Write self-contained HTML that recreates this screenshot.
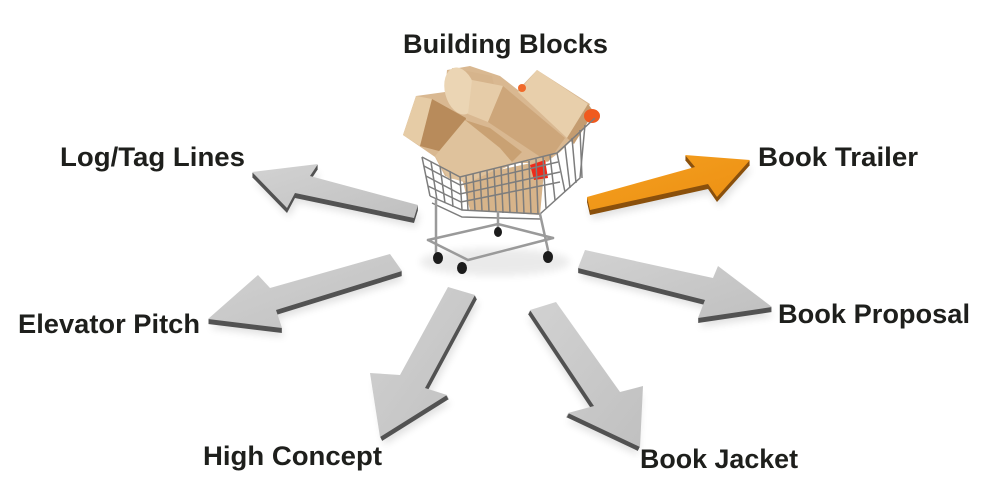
<!DOCTYPE html>
<html><head><meta charset="utf-8"><style>
html,body{margin:0;padding:0;background:#fff;}
svg{display:block;}
text{font-family:"Liberation Sans",Arial,sans-serif;font-weight:bold;font-size:27px;fill:#1e1f1c;}
</style></head><body>
<svg width="1000" height="496" viewBox="0 0 1000 496" xmlns="http://www.w3.org/2000/svg">
<defs>
<linearGradient id="gg" x1="0" y1="0" x2="1" y2="1"><stop offset="0" stop-color="#d2d2d2"/><stop offset="1" stop-color="#c0c0c0"/></linearGradient>
<linearGradient id="og" x1="0" y1="0" x2="1" y2="1"><stop offset="0" stop-color="#f5a020"/><stop offset="1" stop-color="#ec8f12"/></linearGradient>
<filter id="sh" x="-20%" y="-20%" width="140%" height="140%"><feGaussianBlur stdDeviation="4"/></filter>
<polygon id="pA" points="252,172 318,164 310,176 418,205 414,218 295,193 287,208"/>
<polygon id="pB" points="208,319 258,275 270,288 390,254 402,271 276,310 282,328"/>
<polygon id="pC" points="448,287 475,295 425,388 447,395 380,437 370,373 400,375"/>
<polygon id="pD" points="530,310 556,302 620,392 643,386 640,447 568,413 594,406"/>
<polygon id="pE" points="585,250 713,278 718,266 772,307 698,318 705,300 578,268"/>
<polygon id="pF" points="587,197 695,167 685,155 750,160 717,197 708,184 590,210"/>
</defs>

<!-- shadows -->
<g fill="#000" opacity="0.12" filter="url(#sh)">
<use href="#pA" transform="translate(2,9)"/>
<use href="#pB" transform="translate(2,9)"/>
<use href="#pC" transform="translate(4,8)"/>
<use href="#pD" transform="translate(-2,8)"/>
<use href="#pE" transform="translate(2,9)"/>
<use href="#pF" transform="translate(2,9)"/>
</g>

<g fill="#525252">
<use href="#pA" transform="translate(0,1)"/><use href="#pA" transform="translate(0,2)"/><use href="#pA" transform="translate(0,3)"/><use href="#pA" transform="translate(0,4)"/><use href="#pA" transform="translate(0,5)"/>
<use href="#pB" transform="translate(0,1)"/><use href="#pB" transform="translate(0,2)"/><use href="#pB" transform="translate(0,3)"/><use href="#pB" transform="translate(0,4)"/><use href="#pB" transform="translate(0,5)"/>
<use href="#pC" transform="translate(0.5,1)"/><use href="#pC" transform="translate(1,2)"/><use href="#pC" transform="translate(1.5,3)"/><use href="#pC" transform="translate(2,4)"/>
<use href="#pD" transform="translate(-0.5,1)"/><use href="#pD" transform="translate(-1,2)"/><use href="#pD" transform="translate(-1.5,3)"/><use href="#pD" transform="translate(-2,4)"/>
<use href="#pE" transform="translate(0,1)"/><use href="#pE" transform="translate(0,2)"/><use href="#pE" transform="translate(0,3)"/><use href="#pE" transform="translate(0,4)"/><use href="#pE" transform="translate(0,5)"/>
</g>
<g fill="#8a500c">
<use href="#pF" transform="translate(0,1)"/><use href="#pF" transform="translate(0,2)"/><use href="#pF" transform="translate(0,3)"/><use href="#pF" transform="translate(0,4)"/><use href="#pF" transform="translate(0,5)"/>
</g>
<g fill="url(#gg)">
<use href="#pA"/><use href="#pB"/><use href="#pC"/><use href="#pD"/><use href="#pE"/>
</g>
<use href="#pF" fill="url(#og)"/>

<!-- cart shadow -->
<ellipse cx="495" cy="262" rx="75" ry="14" fill="#000" opacity="0.08" filter="url(#sh)"/>

<!-- blocks base fill -->
<polygon points="403,135 416,96 445,92 447,70 470,66 500,76 518,90 537,70 590,104 572,140 560,152 545,163 515,163 470,184 445,176 435,157 422,148" fill="#d9b891"/>
<!-- cylinder -->
<polygon points="452,68 492,76 500,112 462,112" fill="#d6b48c"/>
<ellipse cx="460" cy="91" rx="15" ry="24" transform="rotate(-15 460 91)" fill="#ebd5b4"/>
<!-- right cube -->
<polygon points="537,70 588,104 567,138 518,92" fill="#e8cfab"/>
<polygon points="588,104 594,112 574,144 567,138" fill="#c49c70"/>
<!-- big center block -->
<polygon points="472,80 503,86 488,122 468,114" fill="#e6cca8"/>
<polygon points="503,86 565,138 548,162 488,122" fill="#cda67a"/>
<!-- interior slats -->
<polygon points="462,178 545,160 540,215 470,210" fill="#d7b48a"/>
<!-- left cube -->
<polygon points="403,135 416,96 432,99 420,146" fill="#e6cca6"/>
<polygon points="432,99 466,118 458,156 420,146" fill="#b88b5b"/>
<!-- front prism -->
<polygon points="465,120 435,156 448,178 470,182 512,162 500,148" fill="#dfc29c"/>
<polygon points="465,120 500,148 512,162 522,152 490,128" fill="#c9a173"/>
<!-- orange/red bits -->
<ellipse cx="592" cy="116" rx="8" ry="7" fill="#f05a1e"/>
<ellipse cx="522" cy="88" rx="4" ry="4" fill="#f06a2a"/>
<polygon points="530,165 545,160 548,178 534,180" fill="#ee2a1a"/>

<!-- basket wires -->
<g stroke="#7d7d7d" stroke-width="1.5" fill="none">
<polyline points="422,157 460,177 557,153 595,118"/>
<polyline points="424,166 460,185 558,162"/>
<polyline points="426,176 460,194 560,172"/>
<polyline points="428,186 461,202 560,182"/>
<polyline points="430,196 462,210 540,214 580,178 585,125"/>
<polyline points="432,203 462,217 540,219"/>
<line x1="422" y1="157" x2="430" y2="196"/>
<line x1="431" y1="162" x2="437" y2="200"/>
<line x1="440" y1="166" x2="445" y2="203"/>
<line x1="450" y1="171" x2="453" y2="207"/>
<line x1="460" y1="177" x2="462" y2="210"/>
<line x1="466" y1="176" x2="468" y2="210"/>
<line x1="473" y1="174" x2="475" y2="211"/>
<line x1="480" y1="172" x2="482" y2="211"/>
<line x1="487" y1="171" x2="489" y2="212"/>
<line x1="494" y1="169" x2="496" y2="212"/>
<line x1="501" y1="167" x2="503" y2="213"/>
<line x1="508" y1="166" x2="510" y2="213"/>
<line x1="515" y1="164" x2="517" y2="213"/>
<line x1="522" y1="162" x2="524" y2="214"/>
<line x1="529" y1="161" x2="531" y2="214"/>
<line x1="536" y1="159" x2="538" y2="214"/>
<line x1="543" y1="157" x2="546" y2="208"/>
<line x1="550" y1="155" x2="555" y2="200"/>
<line x1="557" y1="153" x2="565" y2="192"/>
<line x1="565" y1="146" x2="570" y2="188"/>
<line x1="572" y1="138" x2="576" y2="183"/>
<line x1="580" y1="130" x2="582" y2="178"/>
</g>
<!-- base frame -->
<g stroke="#9a9a9a" stroke-width="2.5" fill="none" stroke-linecap="round">
<line x1="436" y1="200" x2="436" y2="252"/>
<line x1="540" y1="214" x2="548" y2="250"/>
<line x1="498" y1="212" x2="498" y2="228"/>
<polyline points="428,240 468,260 553,238"/>
<polyline points="428,240 498,224 553,238"/>
</g>
<g fill="#1c1c1c">
<ellipse cx="438" cy="258" rx="5" ry="6"/>
<ellipse cx="462" cy="268" rx="5" ry="6"/>
<ellipse cx="548" cy="257" rx="5" ry="6"/>
<ellipse cx="498" cy="232" rx="4" ry="5"/>
</g>

<!-- labels -->
<text x="403" y="53" textLength="205" lengthAdjust="spacingAndGlyphs">Building Blocks</text>
<text x="60" y="166" textLength="185" lengthAdjust="spacingAndGlyphs">Log/Tag Lines</text>
<text x="758" y="166" textLength="160" lengthAdjust="spacingAndGlyphs">Book Trailer</text>
<text x="18" y="333" textLength="182" lengthAdjust="spacingAndGlyphs">Elevator Pitch</text>
<text x="778" y="323" textLength="192" lengthAdjust="spacingAndGlyphs">Book Proposal</text>
<text x="203" y="465" textLength="179" lengthAdjust="spacingAndGlyphs">High Concept</text>
<text x="640" y="468" textLength="158" lengthAdjust="spacingAndGlyphs">Book Jacket</text>
</svg>
</body></html>
